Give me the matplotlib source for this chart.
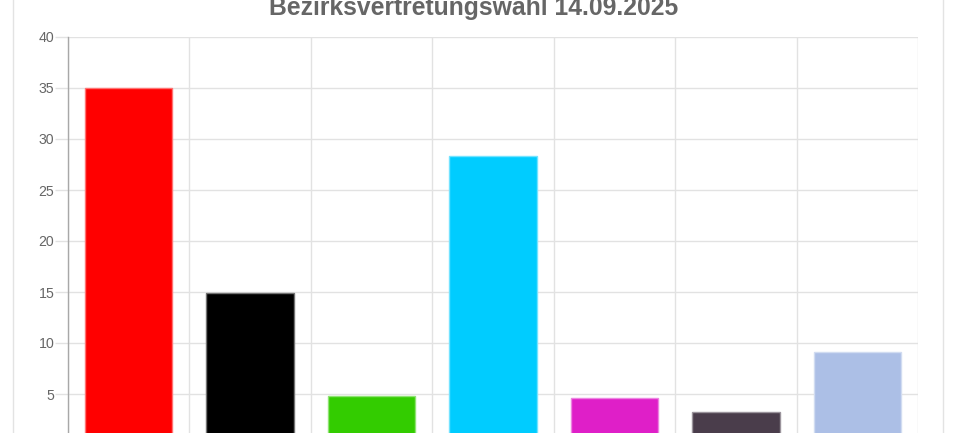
import matplotlib
matplotlib.use("Agg")
import matplotlib.pyplot as plt
from matplotlib.colors import to_rgb
from matplotlib.lines import Line2D

plt.rcParams['font.family'] = ['Liberation Sans', 'DejaVu Sans']

# values (category labels are cut off in the picture)
shares = [35.0, 14.9, 4.8, 28.3, 4.6, 3.2, 9.1]
colors = ['#ff0000', '#000000', '#33cc00', '#00ccff', '#df1fc8', '#4a3d4b', '#acbfe6']
y_ticks = [5, 10, 15, 20, 25, 30, 35, 40]
title = 'Bezirksvertretungswahl 14.09.2025'


def lighter(c, f=0.45):
    r, g, b = to_rgb(c)
    return (r + (1 - r) * f, g + (1 - g) * f, b + (1 - b) * f)


W, H = 963, 433
fig = plt.figure(figsize=(W / 100, H / 100), dpi=100)

# plot area in pixels: left 68, right 918, top 37 (y=40), bottom 445 (y=0, below the crop)
ax = fig.add_axes([68 / W, 1 - 445 / H, (918 - 68) / W, (445 - 37) / H])

x = list(range(len(shares)))
ax.bar(x, shares, width=0.72, color=colors,
       edgecolor=[lighter(c) for c in colors], linewidth=1, zorder=3)

ax.set_xlim(-0.5, len(shares) - 0.5)
ax.set_ylim(0, 40)
ax.set_yticks(y_ticks)
ax.set_yticklabels([str(t) for t in y_ticks])
ax.set_xticks([i - 0.5 for i in range(len(shares) + 1)])
ax.tick_params(axis='x', labelbottom=False, length=0)
ax.tick_params(axis='y', length=9.4, width=1, color='#e2e2e2',
               labelsize=10.2, labelcolor='#666666', pad=0.5)

ax.grid(True, color='#e2e2e2', linewidth=1, zorder=0)
for s in ['top', 'right', 'bottom']:
    ax.spines[s].set_visible(False)
ax.spines['left'].set_color('#a8a8a8')
ax.spines['left'].set_linewidth(1)

fig.text(474 / W, 1 - 15 / H, title, ha='center', va='baseline',
         fontsize=17.8, fontweight='bold', color='#666666')

# card border on both sides
for px in (12.5, 942.5):
    fig.add_artist(Line2D([px / W, px / W], [0, 1], transform=fig.transFigure,
                          color='#e3e3e3', linewidth=1))

fig.savefig('out.png', dpi=100)
